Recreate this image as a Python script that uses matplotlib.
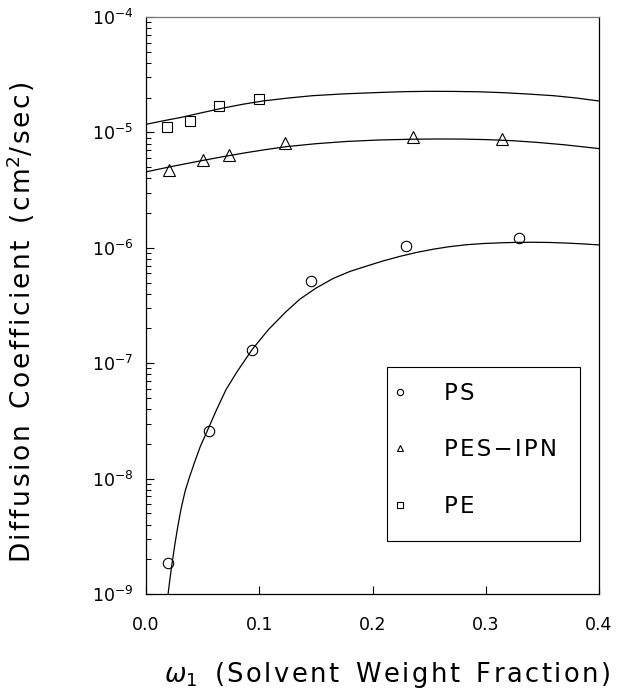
import matplotlib
matplotlib.use("Agg")
import matplotlib.pyplot as plt
from matplotlib.patches import Rectangle
from matplotlib.lines import Line2D

plt.rcParams['font.family'] = ['DejaVu Sans']
plt.rcParams['mathtext.fontset'] = 'dejavusans'

# ---- data ----
ps_x = [0.0190, 0.0553, 0.0936, 0.1454, 0.2299, 0.3297]
ps_y = [1.85e-9, 2.6e-8, 1.31e-7, 5.2e-7, 1.04e-6, 1.22e-6]

pes_x = [0.0206, 0.0506, 0.0730, 0.1230, 0.2360, 0.3143]
pes_y = [4.75e-6, 5.77e-6, 6.37e-6, 8.04e-6, 9.06e-6, 8.77e-6]

pe_x = [0.0188, 0.0391, 0.0648, 0.1000]
pe_y = [1.107e-5, 1.26e-5, 1.69e-5, 1.95e-5]

# fitted curves
ps_fit_x = [0.0195, 0.021, 0.023, 0.0255, 0.028, 0.031, 0.0345, 0.0383, 0.043, 0.048,
            0.0553, 0.062, 0.0706, 0.080, 0.0936, 0.108, 0.1236, 0.136, 0.150, 0.1654,
            0.180, 0.1949, 0.210, 0.2243, 0.239, 0.2537, 0.268, 0.2832, 0.298, 0.3126,
            0.327, 0.342, 0.357, 0.3715, 0.386, 0.400]
ps_fit_y = [1.0e-9, 1.318e-9, 1.841e-9, 2.692e-9, 3.802e-9, 5.495e-9, 7.762e-9, 1.023e-8,
            1.396e-8, 1.905e-8, 2.754e-8, 3.890e-8, 5.888e-8, 8.318e-8, 1.309e-7, 1.950e-7,
            2.793e-7, 3.597e-7, 4.467e-7, 5.433e-7, 6.237e-7, 6.950e-7, 7.727e-7, 8.433e-7,
            9.120e-7, 9.727e-7, 1.023e-6, 1.064e-6, 1.089e-6, 1.104e-6, 1.114e-6, 1.117e-6,
            1.112e-6, 1.099e-6, 1.081e-6, 1.059e-6]

pes_fit_x = [0.0, 0.022, 0.0441, 0.066, 0.0883, 0.105, 0.1236, 0.150, 0.1766, 0.205,
             0.2355, 0.258, 0.2797, 0.302, 0.3238, 0.345, 0.370, 0.400]
pes_fit_y = [4.55e-6, 5.05e-6, 5.57e-6, 6.11e-6, 6.67e-6, 7.08e-6, 7.52e-6, 7.98e-6, 8.34e-6,
             8.59e-6, 8.73e-6, 8.77e-6, 8.75e-6, 8.65e-6, 8.47e-6, 8.20e-6, 7.80e-6, 7.24e-6]

pe_fit_x = [0.0, 0.015, 0.030, 0.050, 0.0677, 0.085, 0.103, 0.125, 0.147, 0.175, 0.206,
            0.228, 0.250, 0.272, 0.294, 0.316, 0.338, 0.360, 0.380, 0.400]
pe_fit_y = [1.175e-5, 1.259e-5, 1.343e-5, 1.486e-5, 1.622e-5, 1.750e-5, 1.871e-5, 1.982e-5,
            2.080e-5, 2.158e-5, 2.218e-5, 2.254e-5, 2.270e-5, 2.265e-5, 2.249e-5, 2.208e-5,
            2.148e-5, 2.080e-5, 1.986e-5, 1.871e-5]

labels = ['PS', 'PES\u2212IPN', 'PE']
x_ticks = [0.0, 0.1, 0.2, 0.3, 0.4]
x_tick_labels = ['0.0', '0.1', '0.2', '0.3', '0.4']

HS = '\u200a'  # hair space for wide letter tracking


def track(s):
    return HS.join(list(s))


# ---- figure ----
W, H = 617, 693
fig = plt.figure(figsize=(W / 100, H / 100), dpi=100)
L, R, T, B = 146, 599, 17, 594
ax = fig.add_axes([L / W, 1 - B / H, (R - L) / W, (B - T) / H])

ax.set_yscale('log')
ax.set_xlim(0, 0.4)
ax.set_ylim(1e-9, 1e-4)

lw = 0.9
ax.plot(ps_fit_x, ps_fit_y, color='black', lw=lw)
ax.plot(pes_fit_x, pes_fit_y, color='black', lw=lw)
ax.plot(pe_fit_x, pe_fit_y, color='black', lw=lw)

mk = dict(linestyle='none', markerfacecolor='none', markeredgecolor='black', markeredgewidth=0.8)
ax.plot(ps_x, ps_y, marker='o', markersize=7.5, **mk)
ax.plot(pes_x, pes_y, marker='^', markersize=8.0, **mk)
ax.plot(pe_x, pe_y, marker='s', markersize=7.3, **mk)

# ticks
ax.set_xticks(x_ticks)
ax.set_xticklabels(x_tick_labels)
ax.tick_params(axis='x', which='both', direction='in', length=6, width=0.8,
               labelsize=12.5, pad=16, top=False)
ax.tick_params(axis='y', which='major', direction='in', length=6, width=0.8,
               labelsize=12.5, pad=9, right=False)
ax.tick_params(axis='y', which='minor', direction='in', length=3.5, width=0.7, right=False)

for s in ['left', 'bottom', 'right']:
    ax.spines[s].set_linewidth(0.9)
    ax.spines[s].set_color('black')
ax.spines['top'].set_linewidth(0.9)
ax.spines['top'].set_color('#777777')

# labels
ylab = (track('Diffusion') + '  ' + track('Coefficient') + '  ' +
        track('(cm') + '$^2$' + track('/sec)'))
fig.text(21 / W, 1 - 322 / H, ylab, rotation=90, ha='center', va='center', fontsize=19)
xlab = (r'$\omega_1$' + '  ' + track('(Solvent') + '  ' + track('Weight') + '  ' +
        track('Fraction)'))
fig.text(387 / W, 1 - 675 / H, xlab, ha='center', va='center', fontsize=18.5)

# legend
bx0, bx1, by0, by1 = 387.3, 580, 366.7, 541
ax.add_patch(Rectangle(((bx0 - L) / (R - L), (B - by1) / (B - T)),
                       (bx1 - bx0) / (R - L), (by1 - by0) / (B - T),
                       transform=ax.transAxes, fill=False, edgecolor='black', lw=0.8, zorder=5))
handles = [Line2D([], [], marker='o', markersize=4.5, **mk),
           Line2D([], [], marker='^', markersize=5, **mk),
           Line2D([], [], marker='s', markersize=4.5, **mk)]
leg = ax.legend(handles, [track(t) for t in labels], loc='upper left',
                bbox_to_anchor=((bx0 - 6 - L) / (R - L), (B - by0 - 8) / (B - T)),
                frameon=False, fontsize=16.5, handlelength=1.0, handletextpad=1.45,
                labelspacing=1.47, borderaxespad=0, borderpad=0.3)

fig.savefig('out.png', dpi=100)
